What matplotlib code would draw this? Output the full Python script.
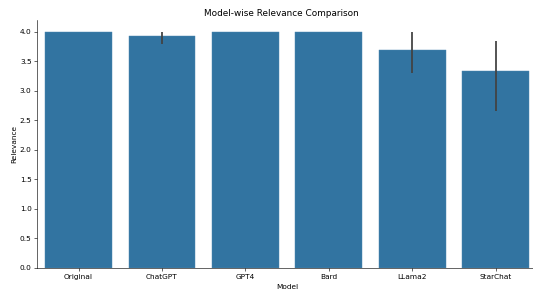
import matplotlib
matplotlib.use("Agg")
import matplotlib.pyplot as plt

models = ["Original", "ChatGPT", "GPT4", "Bard", "LLama2", "StarChat"]
relevance = [4.0, 3.93, 4.0, 4.0, 3.69, 3.33]
ci_low = [4.0, 3.79, 4.0, 4.0, 3.30, 2.66]
ci_high = [4.0, 4.0, 4.0, 4.0, 4.0, 3.85]

dpi = 53.3
fig = plt.figure(figsize=(533 / dpi, 294 / dpi), dpi=dpi)
ax = fig.add_axes([36.8 / 533, 26 / 294, (537.5 - 36.8) / 533, (268 - 20) / 294])

x = list(range(len(models)))
ax.bar(x, relevance, width=0.8, color="#3274a1", edgecolor="#4a86b0", linewidth=0.6)
for xi, lo, hi in zip(x, ci_low, ci_high):
    if hi > lo:
        ax.plot([xi, xi], [lo, hi], color="#424242", linewidth=2.4, solid_capstyle="butt")

ax.set_xlim(-0.5, len(models) - 0.5)
ax.set_ylim(0, 4.2)
ax.set_xticks(x)
ax.set_xticklabels(models)
ax.set_yticks([0.0, 0.5, 1.0, 1.5, 2.0, 2.5, 3.0, 3.5, 4.0])
ax.tick_params(axis="x", pad=5)
ax.set_xlabel("Model", labelpad=5)
ax.set_ylabel("Relevance")
ax.set_title("Model-wise Relevance Comparison", fontsize=12, x=0.489)
ax.spines["top"].set_visible(False)
ax.spines["right"].set_visible(False)

fig.savefig("out.png", dpi=dpi)
